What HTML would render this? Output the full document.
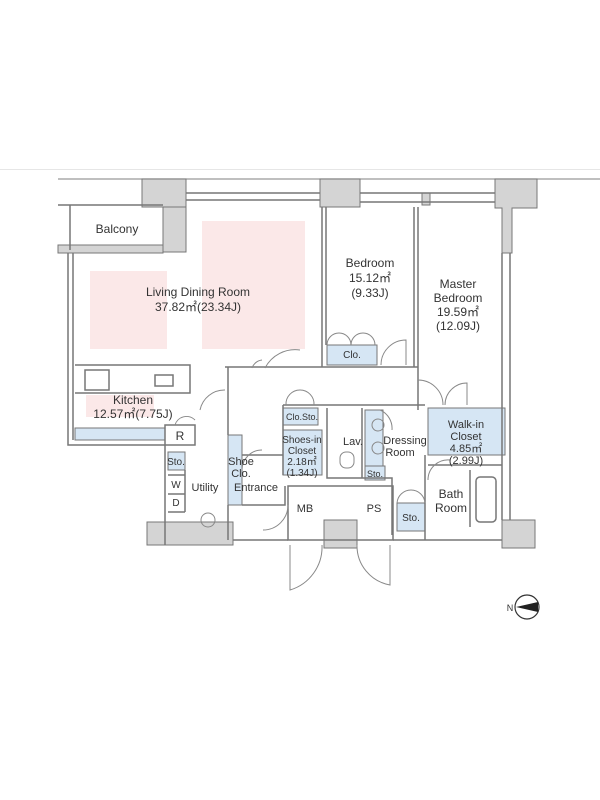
<!DOCTYPE html>
<html><head><meta charset="utf-8"><style>
html,body{margin:0;padding:0;background:#fff;}
svg{display:block;}
text{font-family:"Liberation Sans",sans-serif;fill:#333;text-anchor:middle;}
</style></head><body>
<svg width="600" height="800" viewBox="0 0 600 800" xmlns="http://www.w3.org/2000/svg">
<line x1="0" y1="169.5" x2="600" y2="169.5" stroke="#e6e6e6" stroke-width="1"/>
<line x1="58" y1="179" x2="600" y2="179" stroke="#999" stroke-width="1.2"/>
<!-- pink rooms -->
<rect x="90" y="271" width="77" height="78" fill="#fbe8e8"/>
<rect x="202" y="221" width="103" height="128" fill="#fbe8e8"/>
<rect x="86" y="395" width="68" height="22" fill="#fbe8e8"/>
<!-- light blue areas -->
<g fill="#d6e6f4" stroke="#777" stroke-width="1">
<rect x="327" y="345" width="50" height="20"/>
<rect x="75" y="428" width="90" height="12"/>
<rect x="228" y="435" width="14" height="70"/>
<rect x="283" y="408" width="35" height="17"/>
<rect x="283" y="430" width="39" height="45"/>
<rect x="428" y="408" width="77" height="47"/>
<rect x="365" y="466" width="20" height="14"/>
<rect x="397" y="503" width="28" height="28"/>
<rect x="168" y="452" width="17" height="18"/>
<rect x="186" y="525" width="42" height="10"/>
<rect x="365" y="410" width="18" height="56"/>
</g>
<!-- gray walls -->
<g fill="#d4d4d4" stroke="#777" stroke-width="1">
<rect x="142" y="179" width="44" height="28"/>
<rect x="163" y="207" width="23" height="45"/>
<rect x="58" y="245" width="105" height="8"/>
<rect x="320" y="179" width="40" height="28"/>
<path d="M495 179 H537 V208 H512 V253 H502 V208 H495 Z"/>
<rect x="502" y="520" width="33" height="28"/>
<rect x="147" y="522" width="86" height="23"/>
<rect x="324" y="520" width="33" height="28"/>
<rect x="422" y="193" width="8" height="12"/>
</g>
<g fill="none" stroke="#777" stroke-width="1.5">
<path d="M186 193 H320 M186 200 H320 M360 193 H495 M360 202 H495"/>
<path d="M58 205 H163 M70 205 V250"/>
<path d="M68 253 V445 H165 M73 253 V440"/>
<path d="M322 207 V367 M326 207 V345"/>
<path d="M414 207 V367 M418 207 V410"/>
<path d="M502 253 V520 M510 253 V520 M225 367 H418 M228 367 V435 M228 505 V540"/>
<path d="M75 365 H190 V393 H75"/>
<rect x="85" y="370" width="24" height="20"/>
<rect x="155" y="375" width="18" height="11"/>
<rect x="165" y="425" width="30" height="20"/>
<path d="M165 445 V545 M185 470 V512 M168 475 H185 M168 494 H185 M168 512 H185"/>
<path d="M242 455 H283 M242 505 H285 V486 M283 405 V475 M283 405 H425"/>
<path d="M327 408 V478 H362 V408 M362 478 H392 V535"/>
<rect x="288" y="486" width="105" height="54"/>
<path d="M393 540 H502 M425 455 V540 M428 465 H502 M470 470 V527"/>
<rect x="476" y="477" width="20" height="45" rx="4"/>
<path d="M233 540 H288"/>
</g>
<g fill="none" stroke="#888" stroke-width="1">
<path d="M265 368 A34 34 0 0 1 300 350 M252 368 A12 12 0 0 1 262 360"/>
<path d="M381 365 A25 25 0 0 1 406 340 V365"/>
<path d="M327 345 A12 12 0 0 1 351 345 M351 345 A12 12 0 0 1 375 345"/>
<path d="M418 380 A25 25 0 0 1 443 405"/>
<path d="M445 405 A22 22 0 0 1 467 383 V405"/>
<path d="M200 410 A25 25 0 0 1 225 390"/>
<path d="M175 425 A12 12 0 0 1 195 420"/>
<path d="M242 470 A20 20 0 0 1 262 450 M288 505 A25 25 0 0 1 263 530"/>
<path d="M290 545 V590 A45 45 0 0 0 322 545 M357 545 A40 40 0 0 0 390 585 V545"/>
<path d="M286 405 A14 14 0 0 1 300 390 A14 14 0 0 1 314 405"/>
<path d="M380 410 A20 20 0 0 1 392 430 M397 503 A14 14 0 0 1 411 490 A14 14 0 0 1 425 503"/>
<path d="M428 480 A20 20 0 0 1 450 460"/>
<circle cx="208" cy="520" r="7"/>
<circle cx="378" cy="425" r="6"/><circle cx="378" cy="448" r="6"/>
<rect x="340" y="452" width="14" height="16" rx="6"/>
</g>
<circle cx="527" cy="607" r="12" fill="none" stroke="#333" stroke-width="1.2"/>
<path d="M516 607 L538 602 V612 Z" fill="#222"/>
<text x="510" y="611" font-size="9">N</text>
<g font-size="12">
<text x="117" y="233">Balcony</text>
<text x="198" y="296">Living Dining Room</text>
<text x="198" y="311">37.82㎡(23.34J)</text>
<text x="370" y="267">Bedroom</text>
<text x="370" y="282">15.12㎡</text>
<text x="370" y="297">(9.33J)</text>
<text x="458" y="288">Master</text>
<text x="458" y="302">Bedroom</text>
<text x="458" y="316">19.59㎡</text>
<text x="458" y="330">(12.09J)</text>
<text x="133" y="404">Kitchen</text>
<text x="133" y="418">12.57㎡(7.75J)</text>
<text x="180" y="440">R</text>
<text x="205" y="491" font-size="11">Utility</text>
<text x="241" y="465" font-size="11">Shoe</text>
<text x="241" y="477" font-size="11">Clo.</text>
<text x="256" y="491" font-size="11">Entrance</text>
<text x="353" y="445" font-size="11">Lav.</text>
<text x="405" y="444" font-size="11">Dressing</text>
<text x="400" y="456" font-size="11">Room</text>
<text x="466" y="428" font-size="11">Walk-in</text>
<text x="466" y="440" font-size="11">Closet</text>
<text x="466" y="452" font-size="11">4.85㎡</text>
<text x="466" y="464" font-size="11">(2.99J)</text>
<text x="451" y="498">Bath</text>
<text x="451" y="512">Room</text>
<text x="305" y="512" font-size="11">MB</text>
<text x="374" y="512" font-size="11">PS</text>
</g>
<g font-size="10">
<text x="352" y="358">Clo.</text>
<text x="302" y="420" font-size="9">Clo.Sto.</text>
<text x="302" y="443">Shoes-in</text>
<text x="302" y="454">Closet</text>
<text x="302" y="465">2.18㎡</text>
<text x="302" y="476">(1.34J)</text>
<text x="176" y="465">Sto.</text>
<text x="176" y="488">W</text>
<text x="176" y="506">D</text>
<text x="375" y="477" font-size="9">Sto.</text>
<text x="411" y="521">Sto.</text>
</g>
</svg>
</body></html>
